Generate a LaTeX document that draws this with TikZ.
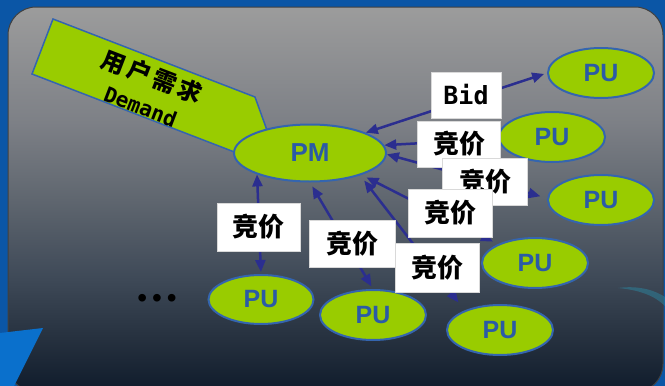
\documentclass[tikz,border=0pt]{standalone}
\usepackage{fontspec}
\setmainfont{Liberation Sans}
\newfontfamily\cjk{Noto Sans CJK SC}
\newfontfamily\monof{DejaVu Sans Mono}
\usetikzlibrary{shapes.geometric,arrows.meta}
\definecolor{ygreen}{HTML}{99CC00}
\definecolor{eblue}{HTML}{3465AF}
\definecolor{tblue}{HTML}{2B5BA6}
\definecolor{aclr}{HTML}{2B2E8F}
\definecolor{bgblue}{HTML}{0B56A6}
\definecolor{triblue}{HTML}{0A70CC}
\definecolor{swoosh}{HTML}{2A8CA8}
\definecolor{bgA}{HTML}{0F1B2B}
\definecolor{bgB}{HTML}{26313F}
\definecolor{bgC}{HTML}{3F4A58}
\definecolor{bgD}{HTML}{5F666F}
\definecolor{bgE}{HTML}{7D8086}
\definecolor{bgF}{HTML}{9C9C9C}
\pgfdeclareverticalshading{bgsh}{100bp}{color(0bp)=(bgA); color(25bp)=(bgA); color(32bp)=(bgB); color(40bp)=(bgC); color(50bp)=(bgD); color(60bp)=(bgE); color(75bp)=(bgF); color(100bp)=(bgF)}
\tikzset{
  ell/.style={ellipse, fill=ygreen, draw=eblue, line width=2pt, inner sep=0pt, text=tblue,
    font=\bfseries\fontsize{25}{25}\selectfont},
  pu/.style={ell, minimum width=106pt, minimum height=50pt},
  arr/.style={{Triangle[length=12pt,width=10pt]}-{Triangle[length=12pt,width=10pt]}, draw=aclr, line width=2.5pt},
  lbl/.style={rectangle, fill=white, draw=black!15, line width=0.5pt, inner sep=0pt,
    font=\cjk\bfseries\fontsize{26}{26}\selectfont, text=black},
  rot/.style={rotate=-21, inner sep=0pt, text=black, align=center}
}
\begin{document}
\begin{tikzpicture}[x=1pt,y=-1pt]
\useasboundingbox (0,0) rectangle (665,386);
% background
\fill[bgblue] (0,0) rectangle (665,386);
\shade[shading=bgsh, draw=black!75, line width=1pt, rounded corners=28pt] (8,7) rectangle (663,392);
\fill[triblue] (0,333) -- (43,328) -- (14,386) -- (0,386) -- cycle;
\fill[swoosh, opacity=0.45] (618,288) .. controls (640,285) and (656,291) .. (665,297) -- (665,306) .. controls (655,296) and (640,290) .. (618,288) -- cycle;
% demand arrow shape
\filldraw[fill=ygreen, draw=eblue, line width=1.5pt] (53,19) -- (255,97) -- (268,133) -- (237,153) -- (32,74) -- cycle;
\node[rot, font=\fontsize{22}{22}\selectfont] (dem) at (147,90) {{\cjk\bfseries\fontsize{24}{24}\selectfont 用\hspace{3pt}户\hspace{3pt}需\hspace{3pt}求}\\[9pt]{\monof\bfseries\fontsize{21}{21}\selectfont Demand}};
% nodes
\node[ell, minimum width=152pt, minimum height=57pt, font=\bfseries\fontsize{26}{26}\selectfont] (PM) at (310,153) {PM};
\node[pu] (PU1) at (601,73) {PU};
\node[pu] (PU2) at (552,137) {PU};
\node[pu] (PU3) at (601,200) {PU};
\node[pu] (PU4) at (535,263) {PU};
\node[pu] (PU5) at (500,330) {PU};
\node[pu] (PU6) at (373,315) {PU};
\node[pu, minimum width=105pt, minimum height=49pt] (PU7) at (261,299.5) {PU};
\node[font=\fontsize{28}{28}\selectfont, text=black] (dots) at (157,301) {•\hspace{5pt}•\hspace{5pt}•};
% connectors
\draw[arr, shorten >=3pt] (PM.20) -- (PU1.west);
\draw[arr] (PM.6) -- (PU2.182);
\draw[arr, shorten >=7pt] (PM.-1) -- (PU3.178);
\draw[arr, shorten <=5.5pt, shorten >=5.5pt] (PM.-23) -- (PU4.153);
\draw[arr, shorten <=6.5pt, shorten >=10pt] (PM.-24) -- (PU5.151);
\draw[arr, shorten <=4.5pt, shorten >=3pt] (PM.-90) -- (PU6.north);
\draw[arr, shorten >=2pt] (PM.202) -- (PU7.north);
% labels
\node[lbl, minimum width=70pt, minimum height=46pt, font=\monof\bfseries\fontsize{25}{25}\selectfont] (lbid) at (466,95) {Bid};
\node[lbl, minimum width=83pt, minimum height=46pt] (l1) at (459,144) {竞价};
\node[lbl, minimum width=85pt, minimum height=47pt] (l2) at (485,181.5) {竞价};
\node[lbl, minimum width=84pt, minimum height=48pt] (l3) at (450,213) {竞价};
\node[lbl, minimum width=83pt, minimum height=48pt] (l4) at (258.5,227) {竞价};
\node[lbl, minimum width=86pt, minimum height=47pt] (l5) at (352,243.5) {竞价};
\node[lbl, minimum width=84pt, minimum height=49pt] (l6) at (437,267.5) {竞价};
\end{tikzpicture}
\end{document}
